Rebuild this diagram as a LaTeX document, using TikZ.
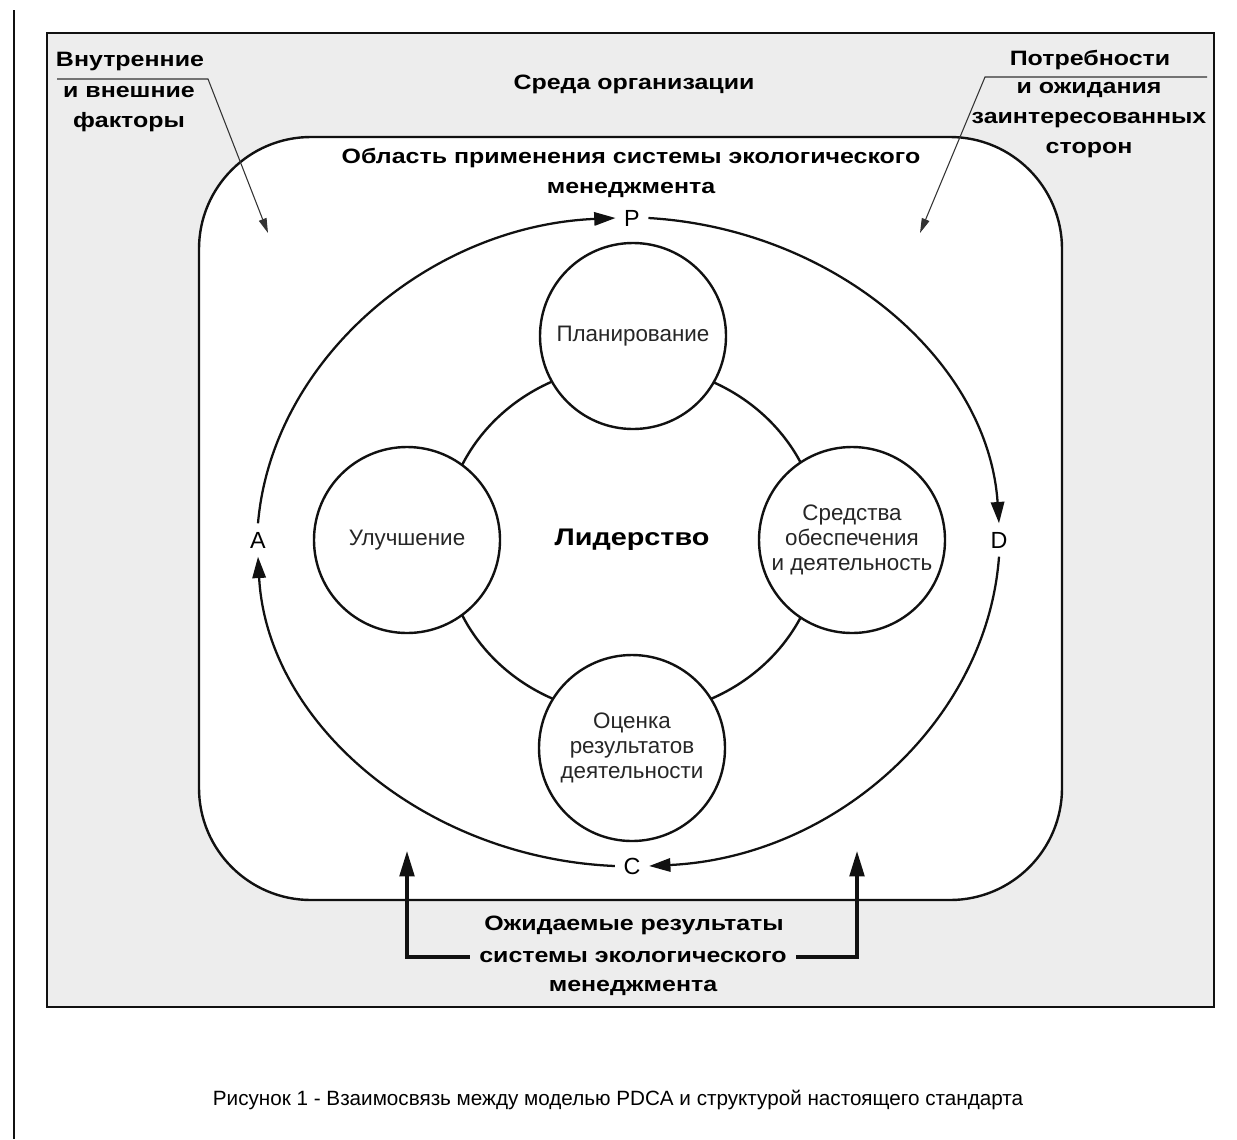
\documentclass[tikz,border=0pt]{standalone}
\usepackage{fontspec}
\setmainfont{Liberation Sans}
\newfontfamily\wideb[FakeStretch=1.2]{Liberation Sans}
\usetikzlibrary{arrows.meta,shapes.geometric}
\definecolor{bggray}{HTML}{EDEDED}
\definecolor{ink}{HTML}{111111}
\begin{document}
\begin{tikzpicture}[x=0.75pt,y=-0.75pt,
  boldlbl/.style={font=\wideb\bfseries\fontsize{15.6}{22.5}\selectfont, align=center, inner sep=0pt},
  ctext/.style={circle, draw=ink, fill=white, line width=1.8pt, minimum size=139.5pt, inner sep=0pt, align=center, font=\fontsize{16.8}{19}\selectfont, text=black!85},
  letter/.style={font=\fontsize{17.5}{20}\selectfont, inner sep=4.5pt, outer sep=2pt},
  cyc/.style={line width=1.7pt, draw=ink, -{Triangle[length=16pt,width=10pt]}},
  thinarr/.style={line width=0.8pt, draw=black!80, -{Triangle[length=11pt,width=6pt]}},
  bigarr/.style={line width=2.4pt, draw=ink, -{Triangle[length=19pt,width=11pt]}},
]
\useasboundingbox (0,0) rectangle (1237,1139);
% left margin rule
\draw[line width=1.5pt, draw=ink] (14,10) -- (14,1139);
% organisation environment
\draw[fill=bggray, draw=ink, line width=2.2pt] (47,33) rectangle (1214,1007);
% EMS scope
\draw[fill=white, draw=ink, line width=1.8pt, rounded corners=84pt] (199,137) rectangle (1062,900);
% leadership ring
\node[ellipse, draw=ink, line width=1.8pt, minimum width=282pt, minimum height=262.5pt,
      font=\wideb\bfseries\fontsize{18}{20}\selectfont] (lead) at (632,540) {Лидерство};
% four circles
\node[ctext] (plan) at (633,336) {Планирование};
\node[ctext] (impr) at (407,540) {Улучшение};
\node[ctext] (supp) at (852,540) {Средства\\обеспечения\\и деятельность};
\node[ctext] (eval) at (632,748) {Оценка\\результатов\\деятельности};
% PDCA letters
\node[letter] (P) at (632,218) {P};
\node[letter] (D) at (999,540) {D};
\node[letter] (C) at (632,866) {C};
\node[letter] (A) at (258,540) {A};
% PDCA cycle
\draw[cyc] (A.north) .. controls +(14,-163) and +(-187,8) .. (P.west);
\draw[cyc] (P.east) .. controls +(186,11) and +(-11,-163) .. (D.north);
\draw[cyc] (D.south) .. controls +(-12,164) and +(187,-9) .. (C.east);
\draw[cyc] (C.west) .. controls +(-190,-8) and +(9,167) .. (A.south);
% labels
\node[boldlbl] (env) at (634,84) {Среда организации};
\node[boldlbl] (scope) at (631,173) {Область применения системы экологического\\менеджмента};
\node[boldlbl] (int1) at (130,62) {Внутренние};
\node[boldlbl] (int2) at (129,109) {и внешние\\факторы};
\node[boldlbl] (need1) at (1090,60) {Потребности};
\node[boldlbl] (need2) at (1089,120) {и ожидания\\заинтересованных\\сторон};
\node[boldlbl] (exp1) at (634,925) {Ожидаемые результаты};
\node[boldlbl] (exp2) at (633,957) {системы экологического};
\node[boldlbl] (exp3) at (633,988) {менеджмента};
% annotation arrows
\coordinate (intL) at (57,79);
\coordinate (intK) at (208,79);
\coordinate (intT) at (268,233);
\draw[thinarr] (intL) -- (intK) -- (intT);
\coordinate (needR) at (1207,77);
\coordinate (needK) at (985,77);
\coordinate (needT) at (920,233);
\draw[thinarr] (needR) -- (needK) -- (needT);
% expected outcomes arrows
\coordinate (tipL) at (407,851);
\coordinate (tipR) at (857,851);
\draw[bigarr] ([xshift=-7pt]exp2.west) -| (tipL);
\draw[bigarr] ([xshift=7pt]exp2.east) -| (tipR);
% caption
\node[font=\fontsize{15.5}{18}\selectfont] (cap) at (618,1100) {Рисунок 1 - Взаимосвязь между моделью PDCA и структурой настоящего стандарта};
\end{tikzpicture}
\end{document}
